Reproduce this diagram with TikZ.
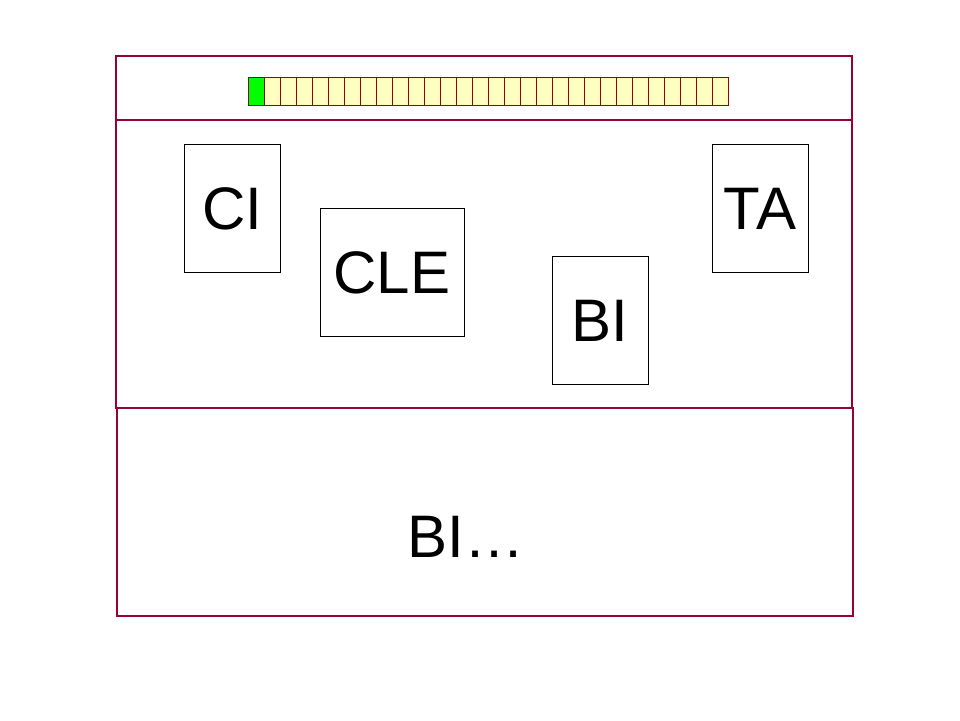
\documentclass[tikz,border=0pt]{standalone}
\usepackage{fontspec}
\setmainfont{Liberation Sans}
\usepackage{tikz}
\usetikzlibrary{positioning}
\definecolor{colorFrame}{RGB}{153,0,51}
\definecolor{colorCell}{RGB}{255,255,192}
\definecolor{colorCellLine}{RGB}{153,0,0}
\definecolor{colorDone}{RGB}{0,255,0}
\tikzset{
  frame/.style={draw=colorFrame, line width=2.8pt},
  cell/.style={draw=colorCellLine, fill=colorCell, line width=0.8pt, minimum width=16pt, minimum height=28pt, inner sep=0pt},
  card/.style={draw=black, line width=0.8pt, minimum width=96pt, minimum height=128pt, inner sep=0pt,
    font=\fontsize{60}{72}\selectfont, text height=43pt, text depth=0pt},
  label/.style={inner sep=0pt, font=\fontsize{60}{72}\selectfont, text height=43pt, text depth=0pt}
}
\begin{document}
\begin{tikzpicture}[x=1pt, y=-1pt]
\useasboundingbox (0,0) rectangle (960,720);
% frames
\draw[frame] (116,56) rectangle (852,120);
\draw[frame] (116,120) rectangle (852,408);
\draw[frame] (117,408) rectangle (853,616);
% progress bar
\foreach \i in {0,...,29}
  \node[cell] (c\i) at (256+16*\i,91) {};
\node[cell, fill=colorDone] at (c0) {};
% cards
\node[card] (ci) at (232,208) {CI};
\node[card, minimum width=144pt] (cle) at (392,272) {CLE};
\node[card] (bi) at (600,320) {BI};
\node[card] (ta) at (760,208) {TA};
\node[label] (more) at (466,536) {BI…};
\end{tikzpicture}
\end{document}
